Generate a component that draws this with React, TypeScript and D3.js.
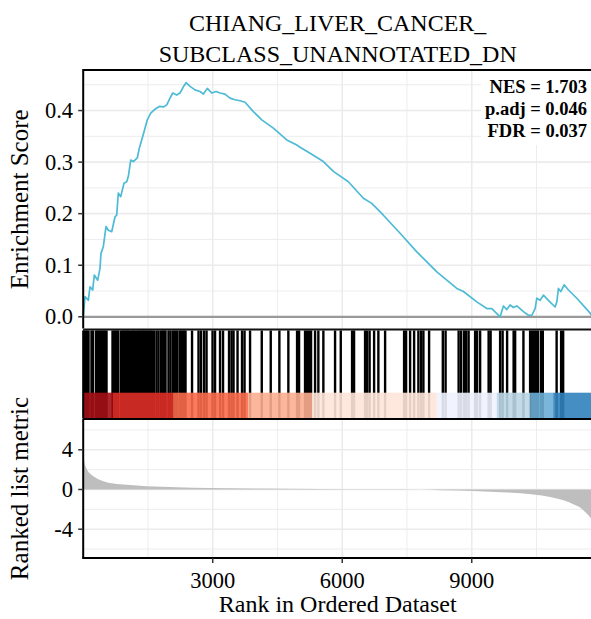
import React from "react";
import * as d3 from "d3";

const titleLines = ["CHIANG_LIVER_CANCER_", "SUBCLASS_UNANNOTATED_DN"];
const statLines = ["NES = 1.703", "p.adj = 0.046", "FDR = 0.037"];
const N = 11790;

const esRank = [2, 42, 118, 158, 220, 257, 336, 389, 412, 466, 528, 582, 660, 737, 776, 813, 869, 945, 1008, 1045, 1101, 1161, 1253, 1300, 1355, 1409, 1485, 1564, 1640, 1703, 1763, 1856, 1935, 2011, 2074, 2166, 2243, 2319, 2382, 2475, 2590, 2706, 2783, 2875, 2977, 3077, 3170, 3285, 3401, 3517, 3633, 3749, 3941, 4136, 4405, 4715, 4947, 5023, 5255, 5563, 5795, 6142, 6490, 6684, 6953, 7340, 7727, 8191, 8654, 8807, 9117, 9349, 9465, 9657, 9734, 9812, 9889, 9965, 10044, 10197, 10313, 10392, 10468, 10507, 10584, 10660, 10776, 10931, 10971, 11008, 11063, 11140, 11240, 11434, 11742, 11790];
const esValue = [0, 0.039, 0.032, 0.058, 0.052, 0.081, 0.071, 0.094, 0.123, 0.136, 0.175, 0.168, 0.165, 0.194, 0.197, 0.24, 0.233, 0.259, 0.262, 0.272, 0.304, 0.301, 0.308, 0.327, 0.343, 0.359, 0.382, 0.395, 0.401, 0.405, 0.408, 0.407, 0.411, 0.424, 0.434, 0.43, 0.434, 0.446, 0.454, 0.447, 0.44, 0.437, 0.432, 0.443, 0.434, 0.437, 0.434, 0.432, 0.424, 0.421, 0.419, 0.416, 0.398, 0.382, 0.366, 0.343, 0.333, 0.329, 0.317, 0.301, 0.282, 0.262, 0.23, 0.22, 0.197, 0.162, 0.126, 0.087, 0.055, 0.049, 0.029, 0.016, 0.016, 0.0, 0.021, 0.014, 0.023, 0.018, 0.021, 0.01, 0.003, 0.003, 0.016, 0.036, 0.032, 0.042, 0.032, 0.019, 0.029, 0.055, 0.049, 0.062, 0.052, 0.036, 0.007, 0];

const hitRanks = [19, 53, 88, 123, 192, 227, 297, 331, 366, 401, 436, 470, 505, 540, 679, 714, 748, 783, 813, 876, 911, 945, 980, 1015, 1050, 1084, 1131, 1165, 1200, 1247, 1281, 1316, 1351, 1386, 1420, 1455, 1490, 1525, 1559, 1594, 1641, 1698, 1745, 1803, 1837, 1872, 1907, 1976, 2023, 2081, 2127, 2173, 2231, 2266, 2301, 2336, 2370,
  2521, 2671, 2729, 2799, 2857, 2996, 3054, 3170, 3239, 3378, 3436, 3482, 3575, 3679, 3737, 3865, 4136, 4344, 4544, 4752, 4954, 5000, 5139, 5185, 5232, 5278, 5371, 5447, 5563, 5834, 5966, 6228, 6274, 6529, 6576, 6634, 6738, 6837, 6993, 7433, 7479, 7572, 7665, 7764, 7827, 7880, 8012, 8330, 8394, 8696, 8754, 8823, 8870, 8927, 9078, 9124, 9194, 9391, 9437, 9657, 9715, 9819, 9970, 10005, 10197, 10352, 10399, 10445, 10491, 10538, 10607, 10646, 10966, 11070, 11117];

const metricRank = [1, 30, 81, 158, 234, 350, 466, 697, 1008, 1471, 2166, 2938, 4096, 5487, 6877, 7803, 8266, 9038, 9812, 10428, 10815, 11124, 11355, 11510, 11626, 11742, 11790];
const metricValue = [3.8, 2.7, 2.1, 1.6, 1.34, 1.04, 0.84, 0.6, 0.47, 0.33, 0.23, 0.16, 0.1, 0.05, 0.02, 0.0, -0.07, -0.14, -0.3, -0.5, -0.75, -1.08, -1.48, -1.82, -2.26, -2.8, -3.1];

const bandStart = [0, 690, 2081, 3819, 5301, 8190, 9580, 10352, 10885];
const bandEnd = [690, 2081, 3819, 5301, 8190, 9580, 10352, 10885, 11790];
const bandColor = ["#A50F15", "#DE2D26", "#FB6A4A", "#FCAE91", "#FEE5D9", "#EFF3FF", "#BDD7E7", "#6BAED6", "#3182BD"];

const esTicks = [0, 0.1, 0.2, 0.3, 0.4];
const esMinor = [0.05, 0.15, 0.25, 0.35, 0.45];
const metricTicks = [4, 0, -4];
const metricMinor = [6, 2, -2, -6];
const rankTicks = [3000, 6000, 9000];
const rankMinor = [1500, 4500, 7500, 10500];

const FONT = "'Liberation Serif', 'Times New Roman', serif";
const GRID = "#EBEBEB";

export default function App() {
  const W = 591, H = 619;
  const left = 83.2, right = 592.2;
  const x = d3.scaleLinear().domain([0, N]).range([left, right]);
  const topY0 = 70, topY1 = 328.5;
  const yES = d3.scaleLinear().domain([-0.0227, 0.4767]).range([topY1, 71]);
  const barY0 = 330.5, stripY0 = 392.7, barY1 = 418.5;
  const botY0 = 419, botY1 = 558;
  const yM = d3.scaleLinear().domain([-6.9, 7.1]).range([botY1, botY0]);

  const esPts: [number, number][] = esRank.map((r, i) => [r, esValue[i]]);
  const esLine = d3.line<[number, number]>().x(d => x(d[0])).y(d => yES(d[1]))(esPts) || "";
  const mPts: [number, number][] = metricRank.map((r, i) => [r, metricValue[i]]);
  const mArea = d3.area<[number, number]>().x(d => x(d[0])).y0(yM(0)).y1(d => yM(d[1])).curve(d3.curveMonotoneX)(mPts) || "";

  const fmt = d3.format(".1f");

  return (
    <div>
      <style>{"body{margin:0;}"}</style>
      <svg width={W} height={H} style={{ display: "block" }} fontFamily={FONT}>
        <rect x={0} y={0} width={W} height={H} fill="#fff" />
        {titleLines.map((t, i) => (
          <text key={t} x={(left + right) / 2} y={31 + i * 30.5} textAnchor="middle" fontSize={24} fill="#000">{t}</text>
        ))}

        {esMinor.map(v => (
          <line key={"em" + v} x1={left} x2={right} y1={yES(v)} y2={yES(v)} stroke={GRID} strokeWidth={0.9} />
        ))}
        {esTicks.filter(v => v !== 0).map(v => (
          <line key={"eM" + v} x1={left} x2={right} y1={yES(v)} y2={yES(v)} stroke={GRID} strokeWidth={1.6} />
        ))}
        {rankMinor.map(v => (
          <line key={"rm" + v} x1={x(v)} x2={x(v)} y1={topY0} y2={topY1} stroke={GRID} strokeWidth={0.9} />
        ))}
        {rankTicks.map(v => (
          <line key={"rM" + v} x1={x(v)} x2={x(v)} y1={topY0} y2={topY1} stroke={GRID} strokeWidth={1.6} />
        ))}
        <rect x={481} y={71} width={right - 481} height={74} fill="#fff" />
        <line x1={left} x2={right} y1={yES(0)} y2={yES(0)} stroke="#999" strokeWidth={2.2} />
        <path d={esLine} fill="none" stroke="#4DBBD5" strokeWidth={1.7} strokeLinejoin="round" />
        {statLines.map((t, i) => (
          <text key={t} x={587} y={93.3 + i * 22} textAnchor="end" fontSize={18.5} fontWeight="bold" fill="#000">{t}</text>
        ))}
        <line x1={left} x2={right} y1={topY0} y2={topY0} stroke="#000" strokeWidth={2} />
        <line x1={left} x2={left} y1={topY0 - 1} y2={topY1} stroke="#000" strokeWidth={2} />
        {esTicks.map(v => (
          <g key={"et" + v}>
            <line x1={left - 5} x2={left} y1={yES(v)} y2={yES(v)} stroke="#333" strokeWidth={1.5} />
            <text x={73} y={yES(v) + 7.5} textAnchor="end" fontSize={22.5} fill="#000">{fmt(v)}</text>
          </g>
        ))}
        <text transform={`translate(28,${(topY0 + topY1) / 2}) rotate(-90)`} textAnchor="middle" fontSize={25} fill="#000">Enrichment Score</text>

        <rect x={left} y={barY0} width={right - left} height={barY1 - barY0} fill="#fff" />
        {hitRanks.map((r, i) => (
          <line key={"h" + i} x1={x(r)} x2={x(r)} y1={barY0} y2={barY1} stroke="#000" strokeWidth={2.4} />
        ))}
        {bandColor.map((c, i) => (
          <rect key={"b" + i} x={x(bandStart[i])} y={stripY0} width={x(bandEnd[i]) - x(bandStart[i])} height={barY1 - stripY0} fill={c} fillOpacity={0.9} />
        ))}
        <line x1={left} x2={right} y1={329.6} y2={329.6} stroke="#111" strokeWidth={2} />
        <line x1={left} x2={left} y1={barY0} y2={barY1} stroke="#000" strokeWidth={2} />

        {metricMinor.map(v => (
          <line key={"mm" + v} x1={left} x2={right} y1={yM(v)} y2={yM(v)} stroke={GRID} strokeWidth={0.9} />
        ))}
        {metricTicks.map(v => (
          <line key={"mM" + v} x1={left} x2={right} y1={yM(v)} y2={yM(v)} stroke={GRID} strokeWidth={1.6} />
        ))}
        {rankMinor.map(v => (
          <line key={"brm" + v} x1={x(v)} x2={x(v)} y1={botY0} y2={botY1} stroke={GRID} strokeWidth={0.9} />
        ))}
        {rankTicks.map(v => (
          <line key={"brM" + v} x1={x(v)} x2={x(v)} y1={botY0} y2={botY1} stroke={GRID} strokeWidth={1.6} />
        ))}
        <path d={mArea} fill="#BEBEBE" stroke="none" />
        <line x1={left} x2={right} y1={botY0} y2={botY0} stroke="#000" strokeWidth={2} />
        <line x1={left - 1} x2={right} y1={botY1} y2={botY1} stroke="#000" strokeWidth={2} />
        <line x1={left} x2={left} y1={botY0} y2={botY1} stroke="#000" strokeWidth={2} />
        {metricTicks.map(v => (
          <g key={"mt" + v}>
            <line x1={left - 5} x2={left} y1={yM(v)} y2={yM(v)} stroke="#333" strokeWidth={1.5} />
            <text x={73} y={yM(v) + 7.5} textAnchor="end" fontSize={22.5} fill="#000">{String(v)}</text>
          </g>
        ))}
        {rankTicks.map(v => (
          <g key={"xt" + v}>
            <line x1={x(v)} x2={x(v)} y1={botY1} y2={botY1 + 5} stroke="#333" strokeWidth={1.5} />
            <text x={x(v)} y={588} textAnchor="middle" fontSize={22.5} fill="#000">{String(v)}</text>
          </g>
        ))}
        <text x={(left + right) / 2} y={612} textAnchor="middle" fontSize={24} fill="#000">Rank in Ordered Dataset</text>
        <text transform={`translate(28,${(botY0 + botY1) / 2}) rotate(-90)`} textAnchor="middle" fontSize={25} fill="#000">Ranked list metric</text>
      </svg>
    </div>
  );
}
